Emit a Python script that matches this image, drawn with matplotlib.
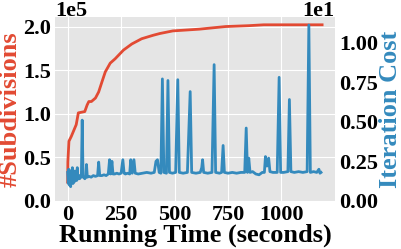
import matplotlib
matplotlib.use("Agg")
import matplotlib.pyplot as plt
from matplotlib.ticker import MultipleLocator

# Subdivisions over time
sub_t = [0, 1, 6, 17, 40, 50, 80, 91, 99, 111, 130, 145, 161, 176, 199, 222,
         261, 300, 346, 400, 431, 492, 616, 739, 847, 917, 1190]
sub_v = [21600, 45000, 68500, 74000, 87500, 101000, 102500, 110000, 114000,
         114000, 118000, 125000, 137000, 148000, 158000, 163000, 173000,
         180000, 186000, 190000, 192000, 195000, 197000, 200000, 201000,
         202000, 202000]

# Iteration cost over time
cost_t = [0, 3, 5, 8, 11, 14, 17, 20, 22, 25, 28, 31, 34, 37, 40, 43, 45, 48,
          52, 56, 60, 64, 68, 72, 76, 80, 85, 88, 92, 100, 110, 120, 130, 140,
          145, 150, 160, 170, 180, 190, 196, 201, 207, 212, 220, 230, 240, 250,
          258, 264, 270, 280, 290, 295, 302, 310, 316, 330, 350, 370, 390, 405,
          413, 420, 428, 436, 443, 450, 462, 469, 476, 490, 505, 515, 522, 540,
          560, 573, 580, 600, 620, 627, 631, 636, 655, 675, 685, 692, 710, 720,
          727, 733, 750, 770, 790, 810, 828, 835, 841, 847, 853, 865, 880, 895,
          910, 920, 925, 932, 940, 946, 960, 980, 989, 996, 1010, 1030, 1037,
          1044, 1060, 1080, 1100, 1120, 1128, 1135, 1150, 1165, 1175, 1180, 1185]
cost_v = [1.8, 1.1, 2.0, 1.0, 1.9, 0.9, 1.7, 1.2, 2.1, 1.1, 1.9, 1.2, 1.8, 1.3,
          1.9, 1.3, 2.1, 1.4, 1.6, 1.4, 1.6, 1.5, 5.1, 1.5, 1.5, 1.4, 1.5, 2.3,
          1.5, 1.55, 1.5, 1.6, 1.55, 1.6, 2.45, 1.6, 1.6, 1.65, 1.6, 1.7, 2.6,
          1.7, 2.5, 1.7, 1.7, 1.75, 1.7, 1.75, 2.6, 1.75, 1.7, 1.75, 1.7, 2.6,
          1.75, 2.6, 1.75, 1.7, 1.75, 1.8, 1.75, 1.8, 2.5, 2.6, 1.8, 1.75, 7.7,
          1.8, 1.75, 7.6, 1.8, 1.75, 1.8, 7.65, 1.8, 1.75, 1.8, 6.9, 1.8, 1.75,
          1.8, 2.1, 2.6, 1.8, 1.75, 1.8, 8.6, 1.8, 1.75, 1.8, 3.5, 1.8, 1.75,
          1.8, 1.75, 1.8, 1.8, 4.6, 1.8, 2.7, 1.8, 1.85, 1.7, 1.65, 1.8, 1.8,
          2.8, 2.2, 2.7, 1.85, 1.8, 1.8, 7.8, 1.8, 1.8, 1.85, 6.4, 1.85, 1.8,
          1.85, 1.8, 1.85, 11.1, 1.8, 1.85, 1.8, 2.0, 1.75, 1.8]

RED = "#E24A33"
BLUE = "#348ABD"
FONT = ["Liberation Serif", "DejaVu Serif"]

plt.rcParams["font.family"] = FONT
plt.rcParams["font.weight"] = "bold"

fig = plt.figure(figsize=(4.01, 2.49), dpi=100)
ax = fig.add_axes([0.137, 0.193, 0.698, 0.739])
ax.set_facecolor("#E5E5E5")
for s in ax.spines.values():
    s.set_visible(False)
ax.grid(True, color="white", linewidth=0.8)
ax.set_axisbelow(True)

ax.plot(sub_t, sub_v, color=RED, linewidth=2.0)
ax.set_ylim(bottom=0)
ax.xaxis.set_major_locator(MultipleLocator(250))
ax.yaxis.set_major_locator(MultipleLocator(50000))
ax.ticklabel_format(axis="y", style="sci", scilimits=(0, 0))
ax.tick_params(length=0, pad=3, labelsize=16)
ax.yaxis.OFFSETTEXTPAD = 1
ax.yaxis.get_offset_text().set_fontsize(16)
ax.yaxis.get_offset_text().set_fontweight("bold")
ax.set_xlabel("Running Time (seconds)", fontsize=19, fontweight="bold", labelpad=-1)
ax.set_ylabel("#Subdivisions", fontsize=19, fontweight="bold", color=RED, labelpad=1)

ax2 = ax.twinx()
for s in ax2.spines.values():
    s.set_visible(False)
ax2.plot(cost_t, cost_v, color=BLUE, linewidth=2.0)
ax2.set_ylim(bottom=0)
ax2.yaxis.set_major_locator(MultipleLocator(2.5))
ax2.ticklabel_format(axis="y", style="sci", scilimits=(0, 0))
ax2.tick_params(length=0, pad=3, labelsize=16)
ax2.yaxis.OFFSETTEXTPAD = 1
ax2.yaxis.get_offset_text().set_fontsize(16)
ax2.yaxis.get_offset_text().set_fontweight("bold")
ax2.set_ylabel("Iteration Cost", fontsize=19, fontweight="bold", color=BLUE, labelpad=1)
ax2.grid(False)

fig.savefig("out.png", dpi=100)
